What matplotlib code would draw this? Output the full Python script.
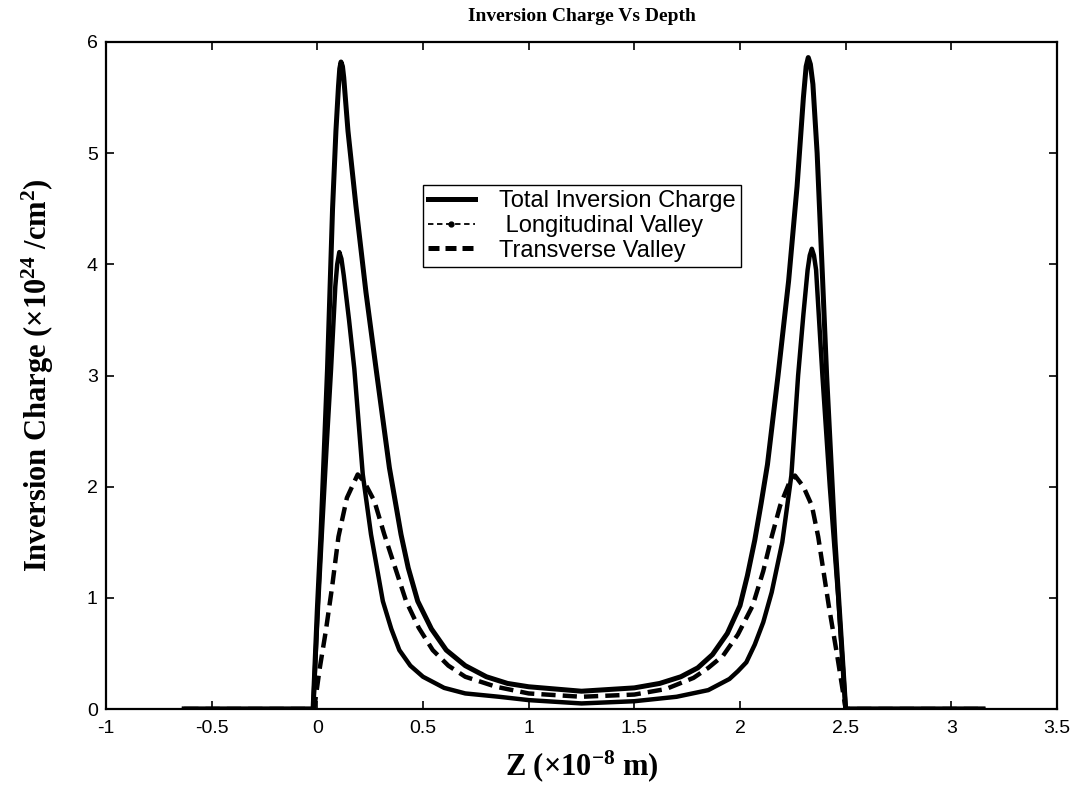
import matplotlib
matplotlib.use("Agg")
import matplotlib.pyplot as plt
from matplotlib.lines import Line2D

# ---- data ----
z_total = [-0.63, -0.30, -0.02, 0.000, 0.017, 0.048, 0.072, 0.088, 0.100, 0.106, 0.112,
           0.119, 0.125, 0.145, 0.183, 0.230, 0.278, 0.341, 0.396, 0.430, 0.475, 0.540,
           0.610, 0.700, 0.800, 0.900, 1.000, 1.250, 1.500, 1.620, 1.720, 1.800, 1.870,
           1.940, 2.000, 2.035, 2.070, 2.100, 2.130, 2.180, 2.230, 2.270, 2.300, 2.313,
           2.323, 2.333, 2.345, 2.365, 2.390, 2.410, 2.450, 2.500, 2.800, 3.150]
v_total = [0.0, 0.0, 0.0, 0.90, 1.57, 3.06, 4.50, 5.20, 5.60, 5.76, 5.82,
           5.78, 5.68, 5.20, 4.52, 3.75, 3.06, 2.17, 1.57, 1.27, 0.97, 0.72,
           0.53, 0.39, 0.29, 0.23, 0.20, 0.16, 0.19, 0.23, 0.29, 0.37, 0.49,
           0.68, 0.93, 1.20, 1.52, 1.85, 2.20, 3.00, 3.85, 4.70, 5.50, 5.78,
           5.86, 5.80, 5.62, 5.00, 3.90, 3.00, 1.50, 0.0, 0.0, 0.0]

z_long = [-0.63, -0.30, -0.02, 0.000, 0.022, 0.045, 0.065, 0.085, 0.094, 0.104, 0.114,
          0.125, 0.150, 0.175, 0.215, 0.254, 0.310, 0.350, 0.388, 0.440, 0.500, 0.600,
          0.700, 0.860, 1.000, 1.250, 1.500, 1.700, 1.850, 1.950, 1.990, 2.030, 2.070,
          2.110, 2.150, 2.200, 2.243, 2.275, 2.300, 2.320, 2.330, 2.340, 2.350, 2.360,
          2.390, 2.425, 2.465, 2.500, 2.800, 3.150]
v_long = [0.0, 0.0, 0.0, 0.80, 1.60, 2.40, 3.06, 3.80, 4.00, 4.11, 4.05,
          3.90, 3.50, 3.06, 2.11, 1.57, 0.97, 0.72, 0.53, 0.39, 0.29, 0.19,
          0.14, 0.11, 0.08, 0.05, 0.07, 0.11, 0.17, 0.27, 0.34, 0.42, 0.58,
          0.78, 1.05, 1.50, 2.10, 3.00, 3.55, 3.95, 4.08, 4.14, 4.08, 3.95,
          3.00, 2.00, 1.00, 0.0, 0.0, 0.0]

z_trans = [-0.63, -0.30, -0.015, 0.010, 0.040, 0.070, 0.100, 0.140, 0.191, 0.220, 0.270,
           0.317, 0.420, 0.480, 0.546, 0.620, 0.700, 0.846, 1.000, 1.250, 1.500, 1.650,
           1.780, 1.850, 1.920, 1.990, 2.060, 2.110, 2.150, 2.190, 2.230, 2.260, 2.300,
           2.340, 2.370, 2.420, 2.460, 2.500, 2.800, 3.150]
v_trans = [0.0, 0.0, 0.0, 0.35, 0.70, 1.10, 1.55, 1.90, 2.11, 2.05, 1.87,
           1.57, 0.97, 0.73, 0.53, 0.39, 0.29, 0.20, 0.14, 0.11, 0.13, 0.18,
           0.28, 0.37, 0.48, 0.67, 0.93, 1.24, 1.55, 1.83, 2.02, 2.10, 2.00,
           1.83, 1.55, 0.93, 0.48, 0.0, 0.0, 0.0]

series_labels = ["Total Inversion Charge", " Longitudinal Valley", "Transverse Valley"]
x_ticks = [-1, -0.5, 0, 0.5, 1, 1.5, 2, 2.5, 3, 3.5]
x_tick_labels = ["-1", "-0.5", "0", "0.5", "1", "1.5", "2", "2.5", "3", "3.5"]
y_ticks = [0, 1, 2, 3, 4, 5, 6]
y_tick_labels = ["0", "1", "2", "3", "4", "5", "6"]

# ---- style ----
plt.rcParams['axes.unicode_minus'] = False
plt.rcParams['mathtext.fontset'] = 'custom'
plt.rcParams['mathtext.rm'] = 'Liberation Serif:bold'
plt.rcParams['mathtext.bf'] = 'Liberation Serif:bold'
plt.rcParams['mathtext.it'] = 'Liberation Serif:bold'

fig = plt.figure(figsize=(10.83, 7.96), dpi=100)
ax = fig.add_axes([106 / 1083, 1 - 709 / 796, (1057 - 106) / 1083, (709 - 42) / 796])

ax.plot(z_total, v_total, color='black', lw=3.6, solid_joinstyle='round', zorder=3)
ax.plot(z_long, v_long, color='black', lw=3.2, solid_joinstyle='round', zorder=3)
ax.plot(z_trans, v_trans, color='black', lw=3.2, linestyle=(0, (3.2, 1.6)), zorder=3)

ax.set_xlim(-1, 3.5)
ax.set_ylim(0, 6)
ax.set_xticks(x_ticks)
ax.set_xticklabels(x_tick_labels)
ax.set_yticks(y_ticks)
ax.set_yticklabels(y_tick_labels)
ax.tick_params(direction='in', top=True, right=True, length=6, width=1.2,
               labelsize=14, pad=8)
ax.tick_params(axis='y', pad=6)
for lab in ax.get_xticklabels() + ax.get_yticklabels():
    lab.set_family('Liberation Sans')
for sp in ax.spines.values():
    sp.set_linewidth(1.6)

serif = 'Liberation Serif'
ax.set_title('Inversion Charge Vs Depth', family=serif, fontweight='bold',
             fontsize=14, pad=15)
ax.set_xlabel(r'Z ($\times$10$^{-8}$ m)', family=serif, fontweight='bold',
              fontsize=22, labelpad=8)
ax.set_ylabel(r'Inversion Charge ($\times$10$^{24}$ /cm$^{2}$)', family=serif,
              fontweight='bold', fontsize=22, labelpad=22)

handles = [
    Line2D([], [], color='black', lw=3.6),
    Line2D([], [], color='black', lw=1.3, linestyle=(0, (3, 2)), marker='.',
           markersize=7),
    Line2D([], [], color='black', lw=3.6, linestyle=(0, (2.2, 1.2))),
]
leg = ax.legend(handles, series_labels, loc='upper left',
                bbox_to_anchor=(0.333, 0.786), frameon=True, fancybox=False,
                edgecolor='black', framealpha=1, borderpad=0.22, labelspacing=0.12,
                handlelength=2.0, handletextpad=1.0, borderaxespad=0,
                prop={'family': 'Liberation Sans', 'size': 17})
leg.get_frame().set_linewidth(1.0)

fig.savefig('out.png', dpi=100)
